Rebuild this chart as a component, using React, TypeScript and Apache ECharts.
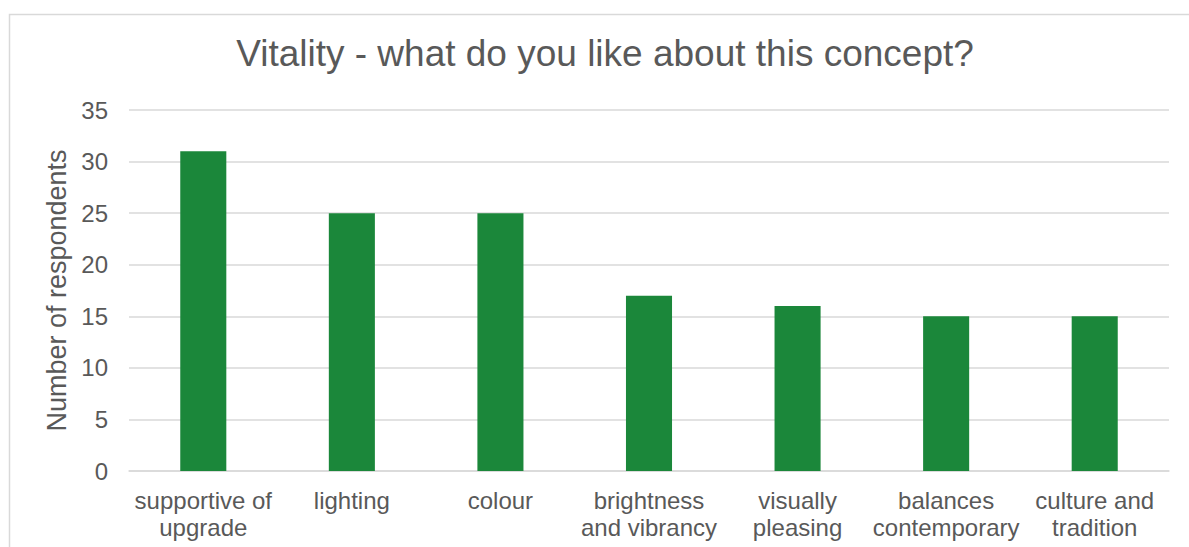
import React, { useEffect, useRef } from "react";
import * as echarts from "echarts";

const categories = [
  "supportive of\nupgrade",
  "lighting",
  "colour",
  "brightness\nand vibrancy",
  "visually\npleasing",
  "balances\ncontemporary",
  "culture and\ntradition",
];
const respondents = [31, 25, 25, 17, 16, 15, 15];
const titleText = "Vitality - what do you like about this concept?";
const yAxisName = "Number of respondents";

export default function App() {
  const ref = useRef<HTMLDivElement>(null);
  useEffect(() => {
    if (!ref.current) return;
    const chart = echarts.init(ref.current, null, { renderer: "svg" });
    const font = "'Liberation Sans', Arial, sans-serif";
    chart.setOption({
      animation: false,
      backgroundColor: "#ffffff",
      textStyle: { fontFamily: font },
      title: {
        text: titleText,
        left: 600,
        top: 30,
        textAlign: "center",
        textStyle: { fontFamily: font, fontSize: 37, fontWeight: "normal", color: "#595959" },
      },
      graphic: [
        {
          type: "rect",
          shape: { x: 9.5, y: 14.5, width: 1200, height: 600 },
          style: { fill: "none", stroke: "#d9d9d9", lineWidth: 1.5 },
          silent: true,
          z: -1,
        },
      ],
      grid: { left: 129, right: 20, top: 110, bottom: 76, containLabel: false },
      xAxis: {
        type: "category",
        data: categories,
        axisLine: { show: true, lineStyle: { color: "#d9d9d9", width: 1.5 } },
        axisTick: { show: false },
        axisLabel: {
          interval: 0,
          color: "#595959",
          fontSize: 24,
          lineHeight: 27,
          margin: 16,
          fontFamily: font,
        },
      },
      yAxis: {
        type: "value",
        min: 0,
        max: 35,
        interval: 5,
        name: yAxisName,
        nameLocation: "middle",
        nameGap: 56,
        nameTextStyle: { color: "#595959", fontSize: 27, fontFamily: font },
        axisLine: { show: false },
        axisTick: { show: false },
        axisLabel: { color: "#595959", fontSize: 24, margin: 21, fontFamily: font },
        splitLine: { lineStyle: { color: "#d9d9d9", width: 1.5 } },
      },
      series: [
        {
          type: "bar",
          data: respondents,
          barWidth: "31%",
          itemStyle: { color: "#1b873a" },
        },
      ],
    });
    return () => chart.dispose();
  }, []);
  return (
    <div
      ref={ref}
      style={{ position: "absolute", left: 0, top: 0, width: 1189, height: 547 }}
    />
  );
}
